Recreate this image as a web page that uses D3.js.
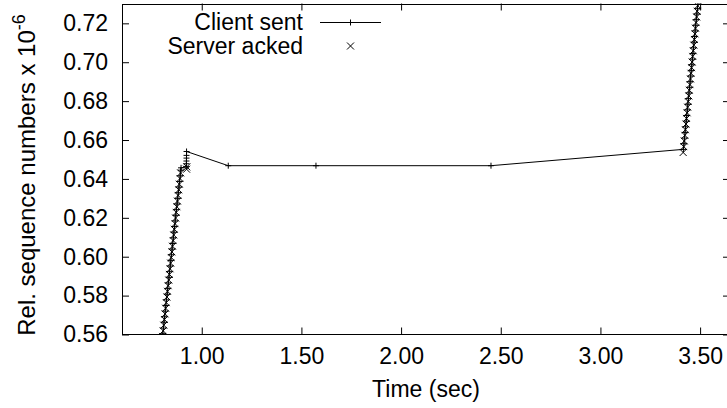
<!DOCTYPE html>
<html>
<head>
<meta charset="utf-8">
<script src="https://cdn.jsdelivr.net/npm/d3@7"></script>
<style>
  body { margin: 0; background: #fff; }
  svg text { font-family: "Liberation Sans", Arial, sans-serif; font-size: 23px; fill: #000; }
</style>
</head>
<body>
<svg width="727" height="408"></svg>
<script>
'use strict';

// tick labels
var xTicks = [1.0, 1.5, 2.0, 2.5, 3.0, 3.5];
var yTicks = [0.56, 0.58, 0.60, 0.62, 0.64, 0.66, 0.68, 0.70, 0.72];

// client sent (time in sec, seq x 10^6)
var clientTime = [0.8015, 0.8046, 0.8078, 0.8108, 0.8139, 0.8171, 0.8200, 0.8232, 0.8265, 0.8294,
  0.8325, 0.8357, 0.8387, 0.8419, 0.8450, 0.8481, 0.8513, 0.8546, 0.8575, 0.8604,
  0.8638, 0.8669, 0.8700, 0.8730, 0.8763, 0.8795, 0.8824, 0.8858, 0.8889, 0.8919,
  0.8950, 0.8962,
  0.9230, 0.9232, 0.9233, 0.9235, 0.9236, 0.9238,
  1.133, 1.573, 2.451,
  3.4162, 3.4190, 3.4219, 3.4246, 3.4275, 3.4303, 3.4331, 3.4360, 3.4387, 3.4415,
  3.4444, 3.4472, 3.4500, 3.4527, 3.4556, 3.4584, 3.4613, 3.4640, 3.4668, 3.4697,
  3.4725, 3.4753, 3.4781, 3.4809, 3.4838, 3.4866, 3.4894, 3.4921];
var clientSeq = [0.5575, 0.5604, 0.5633, 0.5663, 0.5691, 0.5720, 0.5749, 0.5778, 0.5807, 0.5836,
  0.5865, 0.5894, 0.5923, 0.5952, 0.5981, 0.6010, 0.6039, 0.6068, 0.6097, 0.6126,
  0.6155, 0.6184, 0.6213, 0.6242, 0.6271, 0.6300, 0.6329, 0.6358, 0.6387, 0.6416,
  0.6445, 0.6457,
  0.6463, 0.6478, 0.6492, 0.6507, 0.6521, 0.6541,
  0.6468, 0.6468, 0.6468,
  0.6552, 0.6581, 0.6610, 0.6639, 0.6668, 0.6697, 0.6726, 0.6755, 0.6784, 0.6813,
  0.6842, 0.6871, 0.6900, 0.6929, 0.6958, 0.6987, 0.7016, 0.7045, 0.7074, 0.7103,
  0.7132, 0.7161, 0.7190, 0.7219, 0.7248, 0.7277, 0.7306, 0.7335];

// server acked
var serverTime = [0.8035, 0.8066, 0.8097, 0.8128, 0.8160, 0.8190, 0.8221, 0.8253, 0.8284, 0.8315,
  0.8346, 0.8377, 0.8409, 0.8440, 0.8471, 0.8503, 0.8534, 0.8565, 0.8596, 0.8627,
  0.8658, 0.8690, 0.8721, 0.8752, 0.8783, 0.8815, 0.8846, 0.8877, 0.8908, 0.8940,
  0.9240, 0.9250,
  3.4150, 3.4180, 3.4207, 3.4236, 3.4263, 3.4292, 3.4320, 3.4349, 3.4376, 3.4405,
  3.4433, 3.4461, 3.4489, 3.4518, 3.4545, 3.4573, 3.4602, 3.4630, 3.4658, 3.4686,
  3.4714, 3.4743, 3.4770, 3.4799, 3.4827, 3.4855, 3.4883, 3.4911];
var serverSeq = [0.5590, 0.5619, 0.5648, 0.5677, 0.5706, 0.5735, 0.5764, 0.5793, 0.5822, 0.5851,
  0.5880, 0.5909, 0.5938, 0.5967, 0.5996, 0.6025, 0.6054, 0.6083, 0.6112, 0.6141,
  0.6170, 0.6199, 0.6228, 0.6257, 0.6286, 0.6315, 0.6344, 0.6373, 0.6402, 0.6431,
  0.6450, 0.6462,
  0.6536, 0.6566, 0.6595, 0.6624, 0.6653, 0.6682, 0.6711, 0.6740, 0.6769, 0.6798,
  0.6827, 0.6856, 0.6885, 0.6914, 0.6943, 0.6972, 0.7001, 0.7030, 0.7059, 0.7088,
  0.7117, 0.7146, 0.7175, 0.7204, 0.7233, 0.7262, 0.7291, 0.7320];

var svg = d3.select('svg');

var pLeft = 122, pRight = 730, pTop = 3.5, pBottom = 334.5;

var x = d3.scaleLinear().domain([0.6, 3.65]).range([pLeft, pRight]);
var y = d3.scaleLinear().domain([0.56, 0.7302]).range([pBottom, pTop]);

var client = clientTime.map(function (t, i) { return [t, clientSeq[i]]; });
var server = serverTime.map(function (t, i) { return [t, serverSeq[i]]; });

svg.append('clipPath').attr('id', 'clip')
  .append('rect')
  .attr('x', pLeft).attr('y', pTop)
  .attr('width', pRight - pLeft).attr('height', pBottom - pTop);

// axes: ticks inward on all four sides
var tickLen = 7;
svg.append('g')
  .attr('transform', 'translate(0,' + pBottom + ')')
  .call(d3.axisBottom(x).tickValues(xTicks).tickSize(-tickLen).tickPadding(13)
    .tickFormat(d3.format('.2f')))
  .call(function (g) { g.select('.domain').remove(); });
svg.append('g')
  .attr('transform', 'translate(0,' + pTop + ')')
  .call(d3.axisTop(x).tickValues(xTicks).tickSize(-tickLen).tickFormat(''))
  .call(function (g) { g.select('.domain').remove(); });
svg.append('g')
  .attr('transform', 'translate(' + pLeft + ',0)')
  .call(d3.axisLeft(y).tickValues(yTicks).tickSize(-tickLen).tickPadding(14)
    .tickFormat(d3.format('.2f')))
  .call(function (g) { g.select('.domain').remove(); });
svg.append('g')
  .attr('transform', 'translate(' + pRight + ',0)')
  .call(d3.axisRight(y).tickValues(yTicks).tickSize(-tickLen).tickFormat(''))
  .call(function (g) { g.select('.domain').remove(); });

svg.selectAll('.tick text')
  .style('font-family', '"Liberation Sans", Arial, sans-serif')
  .style('font-size', '23px')
  .attr('fill', '#000');
svg.selectAll('.tick line').attr('stroke', '#000');

// frame
svg.append('path')
  .attr('d', 'M' + pLeft + ',' + (pTop + 0.5) + 'H' + pRight +
    'M' + pLeft + ',' + pBottom + 'H' + pRight +
    'M' + pLeft + ',' + pTop + 'V' + pBottom)
  .attr('fill', 'none').attr('stroke', '#000').attr('stroke-width', 1)
  .attr('shape-rendering', 'crispEdges');

var plot = svg.append('g').attr('clip-path', 'url(#clip)');

var line = d3.line()
  .x(function (d) { return x(d[0]); })
  .y(function (d) { return y(d[1]); });

plot.append('path')
  .datum(client)
  .attr('d', line)
  .attr('fill', 'none')
  .attr('stroke', '#000')
  .attr('stroke-width', 1);

var plusPath = function (cx, cy, r) {
  return 'M' + (cx - r) + ',' + cy + 'H' + (cx + r) + 'M' + cx + ',' + (cy - r) + 'V' + (cy + r);
};
var crossPath = function (cx, cy, r) {
  return 'M' + (cx - r) + ',' + (cy - r) + 'L' + (cx + r) + ',' + (cy + r) +
    'M' + (cx - r) + ',' + (cy + r) + 'L' + (cx + r) + ',' + (cy - r);
};

plot.selectAll('path.plus')
  .data(client)
  .enter().append('path')
  .attr('class', 'plus')
  .attr('d', function (d) { return plusPath(x(d[0]), y(d[1]), 3); })
  .attr('stroke', '#000').attr('stroke-width', 1).attr('fill', 'none');

plot.selectAll('path.cross')
  .data(server)
  .enter().append('path')
  .attr('class', 'cross')
  .attr('d', function (d) { return crossPath(x(d[0]), y(d[1]), 3.5); })
  .attr('stroke', '#000').attr('stroke-width', 1).attr('fill', 'none');

// legend
var legend = svg.append('g');
legend.append('text').attr('x', 303).attr('y', 29.5).attr('text-anchor', 'end').text('Client sent');
legend.append('text').attr('x', 303).attr('y', 54).attr('text-anchor', 'end').text('Server acked');
legend.append('path').attr('d', 'M320,22.5H381').attr('stroke', '#000').attr('stroke-width', 1);
legend.append('path').attr('d', plusPath(350.5, 22.5, 3)).attr('stroke', '#000').attr('stroke-width', 1);
legend.append('path').attr('d', crossPath(350.5, 46, 3.5)).attr('stroke', '#000').attr('stroke-width', 1);

// axis titles
svg.append('text')
  .attr('x', (pLeft + pRight) / 2).attr('y', 397)
  .attr('text-anchor', 'middle')
  .text('Time (sec)');

var ylab = svg.append('text')
  .attr('transform', 'translate(35,175) rotate(-90)')
  .attr('text-anchor', 'middle')
  .style('font-size', '24px');
ylab.append('tspan').text('Rel. sequence numbers x 10');
ylab.append('tspan').attr('dy', -10).style('font-size', '18px').text('-6');
</script>
</body>
</html>
